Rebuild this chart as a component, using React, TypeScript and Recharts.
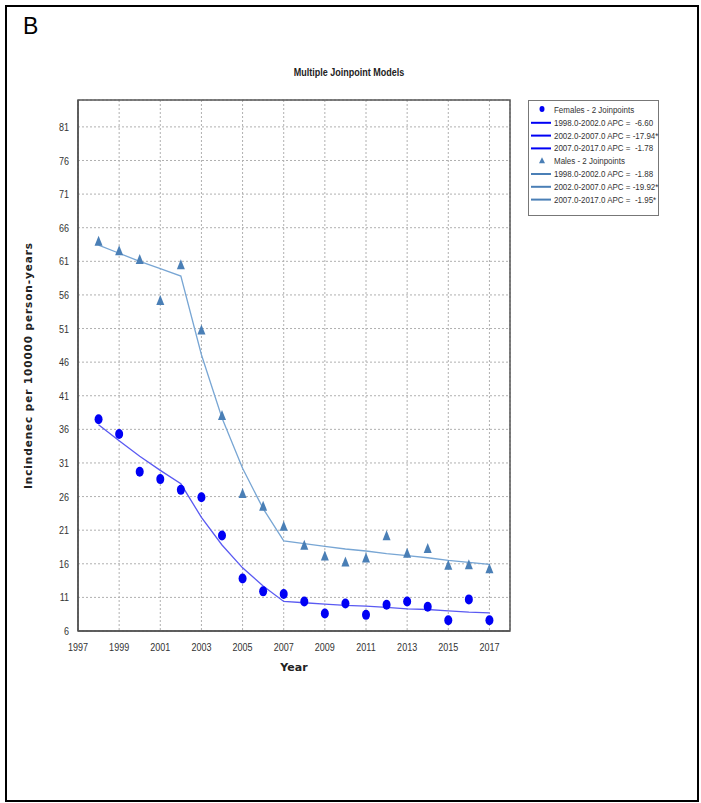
import React from 'react';
import {
  ComposedChart,
  CartesianGrid,
  XAxis,
  YAxis,
  Line,
  Scatter,
  ReferenceArea,
  Label,
} from 'recharts';

const years = [
  1998, 1999, 2000, 2001, 2002, 2003, 2004, 2005, 2006, 2007,
  2008, 2009, 2010, 2011, 2012, 2013, 2014, 2015, 2016, 2017,
];

const femaleObserved = [
  37.5, 35.3, 29.7, 28.6, 27.0, 25.9, 20.2, 13.8, 11.9, 11.5,
  10.4, 8.6, 10.1, 8.4, 9.9, 10.4, 9.6, 7.6, 10.7, 7.6,
];
const femaleFitted = [
  36.7, 34.3, 32.0, 29.9, 27.9, 22.9, 18.8, 15.4, 12.7, 10.4,
  10.2, 10.0, 9.8, 9.7, 9.5, 9.3, 9.2, 9.0, 8.8, 8.7,
];
const maleObserved = [
  63.9, 62.5, 61.2, 55.1, 60.4, 50.7, 38.0, 26.4, 24.5, 21.5,
  18.7, 17.1, 16.2, 16.8, 20.1, 17.5, 18.2, 15.7, 15.8, 15.2,
];
const maleFitted = [
  63.4, 62.2, 61.0, 59.9, 58.8, 47.1, 37.7, 30.2, 24.2, 19.4,
  19.0, 18.6, 18.2, 17.9, 17.5, 17.2, 16.9, 16.5, 16.2, 15.9,
];

const xTicks = [1997, 1999, 2001, 2003, 2005, 2007, 2009, 2011, 2013, 2015, 2017];
const yTicks = [6, 11, 16, 21, 26, 31, 36, 41, 46, 51, 56, 61, 66, 71, 76, 81];

const femaleLegend = [
  '1998.0-2002.0 APC =  -6.60',
  '2002.0-2007.0 APC = -17.94*',
  '2007.0-2017.0 APC =  -1.78',
];
const maleLegend = [
  '1998.0-2002.0 APC =  -1.88',
  '2002.0-2007.0 APC = -19.92*',
  '2007.0-2017.0 APC =  -1.95*',
];

const toPoints = (values: number[]) =>
  years.map((year, i) => ({ year, value: values[i] }));

const FEMALE = '#0000f5';
const FEMALE_LINE = '#5a5af2';
const MALE = '#4a7fb6';
const MALE_LINE = '#78a6d4';
const SANS = '"Liberation Sans", Arial, sans-serif';
// horizontal squeeze to get an Arial-Narrow look from Liberation Sans
const SQUEEZE = 0.82;

const Oval = (props: any) => {
  const { cx, cy } = props;
  if (cx == null || cy == null) return null;
  return <ellipse cx={cx} cy={cy} rx={4} ry={5} fill={FEMALE} />;
};

const Tri = (props: any) => {
  const { cx, cy } = props;
  if (cx == null || cy == null) return null;
  return (
    <path
      d={`M${cx},${cy - 6} L${cx + 4},${cy + 4} L${cx - 4},${cy + 4} Z`}
      fill={MALE}
    />
  );
};

const NarrowTick = (props: any) => {
  const { x, y, payload, textAnchor, axis } = props;
  const dy = axis === 'x' ? 10 : 4;
  return (
    <g transform={`translate(${x},${y}) scale(${SQUEEZE},1)`}>
      <text
        x={0}
        y={dy}
        textAnchor={textAnchor}
        fontSize={11}
        fontFamily={SANS}
        fill="#333"
      >
        {payload.value}
      </text>
    </g>
  );
};

function JoinpointLegend() {
  const row = 12.8;
  const rows: { kind: 'dot' | 'tri' | 'line'; color: string; text: string }[] = [
    { kind: 'dot', color: FEMALE, text: 'Females - 2 Joinpoints' },
    ...femaleLegend.map((text) => ({ kind: 'line' as const, color: FEMALE, text })),
    { kind: 'tri', color: MALE, text: 'Males - 2 Joinpoints' },
    ...maleLegend.map((text) => ({ kind: 'line' as const, color: MALE, text })),
  ];
  return (
    <svg
      width={131}
      height={116}
      style={{ position: 'absolute', left: 528, top: 100 }}
    >
      <rect x={0.5} y={0.5} width={130} height={115} fill="#fff" stroke="#777" />
      {rows.map((r, i) => {
        const y = 10 + i * row;
        return (
          <g key={i}>
            {r.kind === 'dot' && <ellipse cx={14} cy={y - 1} rx={2.5} ry={3} fill={r.color} />}
            {r.kind === 'tri' && (
              <path d={`M14,${y - 4} L17,${y + 2} L11,${y + 2} Z`} fill={r.color} />
            )}
            {r.kind === 'line' && (
              <line x1={3} x2={23} y1={y} y2={y} stroke={r.color} strokeWidth={2} />
            )}
            <g transform={`translate(26,${y + 3}) scale(0.84,1)`}>
              <text
                x={0}
                y={0}
                fontSize={9.5}
                fontFamily={SANS}
                fill="#333"
                style={{ whiteSpace: 'pre' }}
              >
                {r.text}
              </text>
            </g>
          </g>
        );
      })}
    </svg>
  );
}

export default function App() {
  return (
    <div
      style={{
        position: 'absolute',
        left: 0,
        top: 0,
        width: 701,
        height: 803,
        background: '#fff',
      }}
    >
      <div
        style={{
          position: 'absolute',
          left: 5,
          top: 5,
          width: 694,
          height: 797,
          border: '2px solid #000',
          boxSizing: 'border-box',
        }}
      />
      <div
        style={{
          position: 'absolute',
          left: 23,
          top: 13,
          fontFamily: SANS,
          fontSize: 23,
          color: '#000',
        }}
      >
        B
      </div>
      <svg width={701} height={90} style={{ position: 'absolute', left: 0, top: 0 }}>
        <g transform={`translate(349,76) scale(${SQUEEZE},1)`}>
          <text
            x={0}
            y={0}
            textAnchor="middle"
            fontSize={11}
            fontWeight="bold"
            fontFamily={SANS}
            fill="#222"
          >
            Multiple Joinpoint Models
          </text>
        </g>
      </svg>
      <div style={{ position: 'absolute', left: 0, top: 0 }}>
        <ComposedChart
          width={701}
          height={803}
          margin={{ top: 100, right: 191, left: 38, bottom: 142 }}
        >
          <CartesianGrid stroke="#b0b0b0" strokeDasharray="2 2" />
          <XAxis
            type="number"
            dataKey="year"
            domain={[1997, 2018]}
            ticks={xTicks}
            allowDataOverflow
            height={30}
            tickLine={false}
            axisLine={{ stroke: '#555', strokeWidth: 1.5 }}
            tick={<NarrowTick axis="x" />}
            tickMargin={4}
          >
            <Label
              value="Year"
              position="bottom"
              offset={2}
              style={{ fontWeight: 'bold', fontSize: 11, fill: '#222', fontFamily: '"DejaVu Sans", sans-serif' }}
            />
          </XAxis>
          <YAxis
            type="number"
            domain={[6, 85]}
            ticks={yTicks}
            allowDataOverflow
            width={40}
            tickLine={false}
            axisLine={{ stroke: '#555', strokeWidth: 1.5 }}
            tick={<NarrowTick axis="y" />}
            tickMargin={3}
          >
            <Label
              value="Incindenec per 100000 person-years"
              angle={-90}
              position="insideLeft"
              offset={-10}
              style={{
                textAnchor: 'middle',
                fontWeight: 'bold',
                fontSize: 10.5,
                letterSpacing: 0.9,
                fill: '#222',
                fontFamily: '"DejaVu Sans", sans-serif',
              }}
            />
          </YAxis>
          <ReferenceArea
            x1={1997}
            x2={2018}
            y1={6}
            y2={85}
            fill="none"
            stroke="#555"
            strokeWidth={1.5}
          />
          <Line
            data={toPoints(maleFitted)}
            dataKey="value"
            stroke={MALE_LINE}
            strokeWidth={1.3}
            dot={false}
            isAnimationActive={false}
          />
          <Line
            data={toPoints(femaleFitted)}
            dataKey="value"
            stroke={FEMALE_LINE}
            strokeWidth={1.3}
            dot={false}
            isAnimationActive={false}
          />
          <Scatter
            data={toPoints(maleObserved)}
            dataKey="value"
            shape={Tri}
            isAnimationActive={false}
          />
          <Scatter
            data={toPoints(femaleObserved)}
            dataKey="value"
            shape={Oval}
            isAnimationActive={false}
          />
        </ComposedChart>
      </div>
      <JoinpointLegend />
    </div>
  );
}
